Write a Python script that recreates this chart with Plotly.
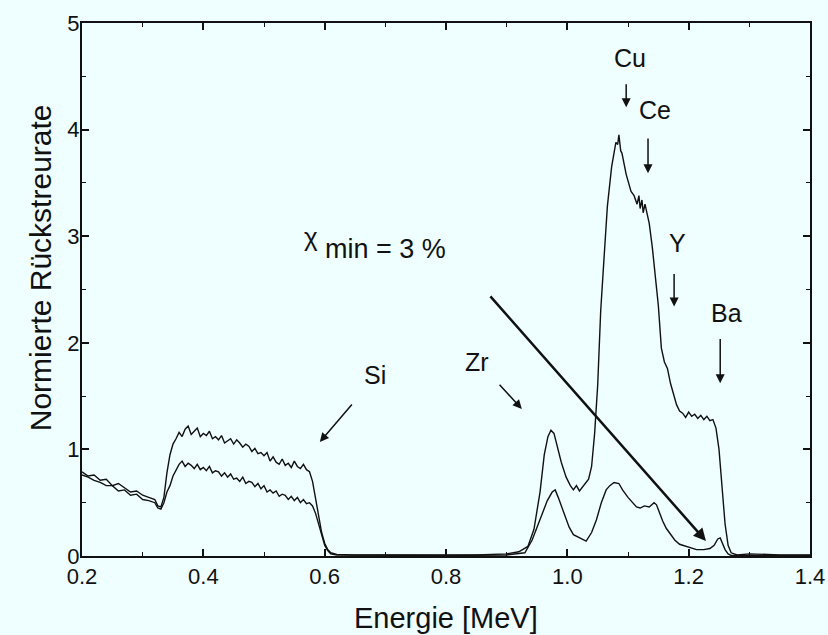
import plotly.graph_objects as go

# ---------------- data ----------------
energy_random = [0.20, 0.21, 0.22, 0.23, 0.24, 0.25, 0.26, 0.27, 0.28, 0.29, 0.30, 0.31, 0.32, 0.325, 0.33,
                 0.335, 0.34, 0.345, 0.35, 0.355, 0.36, 0.365, 0.37, 0.375, 0.38, 0.385, 0.39, 0.395, 0.40,
                 0.405, 0.41, 0.415, 0.42, 0.425, 0.43, 0.435, 0.44, 0.445, 0.45, 0.455, 0.46, 0.465, 0.47,
                 0.475, 0.48, 0.485, 0.49, 0.495, 0.50, 0.505, 0.51, 0.515, 0.52, 0.525, 0.53, 0.535, 0.54,
                 0.545, 0.55, 0.555, 0.56, 0.565, 0.57, 0.575, 0.58, 0.585, 0.59, 0.595, 0.60, 0.605, 0.61,
                 0.62, 0.65, 0.70, 0.75, 0.80, 0.85, 0.90, 0.92, 0.935, 0.945, 0.955, 0.962, 0.968, 0.973,
                 0.978, 0.985, 0.99, 0.998, 1.005, 1.01, 1.015, 1.02, 1.025, 1.03, 1.035, 1.04, 1.045, 1.05,
                 1.055, 1.06, 1.066, 1.073, 1.08, 1.083, 1.085, 1.088, 1.09, 1.097, 1.105, 1.11, 1.115, 1.118,
                 1.12, 1.123, 1.125, 1.128, 1.13, 1.135, 1.14, 1.145, 1.15, 1.155, 1.16, 1.165, 1.17, 1.175,
                 1.18, 1.185, 1.19, 1.195, 1.20, 1.205, 1.21, 1.215, 1.22, 1.225, 1.23, 1.235, 1.24, 1.245,
                 1.25, 1.255, 1.26, 1.265, 1.27, 1.28, 1.30, 1.35, 1.40]
rate_random = [0.79, 0.75, 0.76, 0.71, 0.72, 0.66, 0.68, 0.64, 0.60, 0.61, 0.57, 0.55, 0.53, 0.47, 0.46,
               0.55, 0.78, 0.95, 1.05, 1.10, 1.16, 1.12, 1.19, 1.22, 1.14, 1.17, 1.20, 1.12, 1.15,
               1.13, 1.17, 1.10, 1.12, 1.09, 1.13, 1.06, 1.08, 1.10, 1.05, 1.09, 1.06, 1.02, 1.05,
               1.03, 0.98, 1.01, 0.96, 0.97, 0.94, 0.97, 0.89, 0.93, 0.88, 0.86, 0.91, 0.85, 0.87,
               0.83, 0.89, 0.84, 0.82, 0.86, 0.81, 0.79, 0.70, 0.55, 0.38, 0.22, 0.12, 0.06, 0.03,
               0.015, 0.01, 0.01, 0.01, 0.015, 0.01, 0.02, 0.04, 0.09, 0.25, 0.60, 0.95, 1.12, 1.18,
               1.15, 1.00, 0.88, 0.74, 0.66, 0.62, 0.66, 0.61, 0.65, 0.68, 0.72, 0.84, 1.15, 1.60,
               2.30, 2.75, 3.28, 3.65, 3.88, 3.86, 3.95, 3.80, 3.78, 3.58, 3.42, 3.38, 3.30, 3.38,
               3.26, 3.34, 3.22, 3.30, 3.24, 3.12, 2.90, 2.65, 2.35, 1.95, 1.82, 1.76, 1.62, 1.52,
               1.42, 1.36, 1.34, 1.30, 1.35, 1.31, 1.33, 1.29, 1.32, 1.28, 1.31, 1.27, 1.28, 1.20,
               1.00, 0.65, 0.30, 0.10, 0.03, 0.01, 0.02, 0.01, 0.01]

energy_aligned = [0.20, 0.21, 0.22, 0.23, 0.24, 0.25, 0.26, 0.27, 0.28, 0.29, 0.30, 0.31, 0.32, 0.325, 0.33,
                  0.335, 0.34, 0.345, 0.35, 0.355, 0.36, 0.365, 0.37, 0.375, 0.38, 0.385, 0.39, 0.395, 0.40,
                  0.405, 0.41, 0.415, 0.42, 0.425, 0.43, 0.435, 0.44, 0.445, 0.45, 0.455, 0.46, 0.465, 0.47,
                  0.475, 0.48, 0.485, 0.49, 0.495, 0.50, 0.505, 0.51, 0.515, 0.52, 0.525, 0.53, 0.535, 0.54,
                  0.545, 0.55, 0.555, 0.56, 0.565, 0.57, 0.575, 0.58, 0.585, 0.59, 0.595, 0.60, 0.605, 0.61,
                  0.62, 0.70, 0.80, 0.90, 0.93, 0.942, 0.95, 0.959, 0.967, 0.975, 0.98, 0.985, 0.991, 0.997,
                  1.003, 1.01, 1.02, 1.031, 1.04, 1.048, 1.056, 1.064, 1.07, 1.077, 1.085, 1.091, 1.10,
                  1.107, 1.114, 1.12, 1.127, 1.135, 1.143, 1.147, 1.152, 1.157, 1.163, 1.169, 1.177, 1.185,
                  1.195, 1.205, 1.213, 1.225, 1.235, 1.242, 1.248, 1.252, 1.256, 1.26, 1.265, 1.27, 1.30,
                  1.40]
rate_aligned = [0.76, 0.74, 0.71, 0.69, 0.66, 0.66, 0.61, 0.62, 0.57, 0.58, 0.53, 0.52, 0.50, 0.45, 0.44,
                0.50, 0.60, 0.66, 0.75, 0.80, 0.86, 0.89, 0.84, 0.87, 0.85, 0.82, 0.86, 0.81, 0.83,
                0.80, 0.84, 0.78, 0.80, 0.79, 0.75, 0.78, 0.74, 0.77, 0.72, 0.73, 0.70, 0.74, 0.68,
                0.70, 0.69, 0.65, 0.68, 0.63, 0.66, 0.60, 0.62, 0.59, 0.61, 0.56, 0.58, 0.57, 0.53,
                0.56, 0.52, 0.55, 0.50, 0.53, 0.49, 0.50, 0.47, 0.40, 0.30, 0.18, 0.10, 0.05, 0.02,
                0.01, 0.005, 0.005, 0.01, 0.03, 0.15, 0.27, 0.40, 0.52, 0.60, 0.62, 0.55, 0.46, 0.36,
                0.27, 0.20, 0.17, 0.14, 0.22, 0.34, 0.50, 0.62, 0.66, 0.69, 0.68, 0.62, 0.55,
                0.50, 0.46, 0.45, 0.47, 0.46, 0.50, 0.48, 0.40, 0.33, 0.26, 0.21, 0.15, 0.11,
                0.09, 0.07, 0.06, 0.06, 0.07, 0.10, 0.16, 0.17, 0.12, 0.06, 0.02, 0.005, 0.005,
                0.005]

x_ticks = [0.2, 0.4, 0.6, 0.8, 1.0, 1.2, 1.4]
x_tick_labels = ["0.2", "0.4", "0.6", "0.8", "1.0", "1.2", "1.4"]
y_ticks = [0, 1, 2, 3, 4, 5]

# element labels: (text, label x, label y, arrow tail x, tail y, head x, head y)
element_labels = [
    ("Cu", 1.103, 4.67, 1.097, 4.44, 1.097, 4.21),
    ("Ce", 1.145, 4.18, 1.133, 3.93, 1.133, 3.59),
    ("Y", 1.181, 2.94, 1.176, 2.66, 1.176, 2.34),
    ("Ba", 1.262, 2.28, 1.252, 2.05, 1.252, 1.62),
    ("Si", 0.683, 1.70, 0.647, 1.435, 0.592, 1.07),
    ("Zr", 0.851, 1.82, 0.886, 1.62, 0.925, 1.38),
]

BG = "#effefe"
FONT = "Liberation Sans, Arial, sans-serif"
INK = "#111111"

fig = go.Figure()
fig.add_trace(go.Scatter(x=energy_random, y=rate_random, mode="lines",
                         line=dict(color=INK, width=1.4), showlegend=False))
fig.add_trace(go.Scatter(x=energy_aligned, y=rate_aligned, mode="lines",
                         line=dict(color=INK, width=1.4), showlegend=False))

annotations = []
for text, lx, ly, tx, ty, hx, hy in element_labels:
    annotations.append(dict(x=lx, y=ly, xref="x", yref="y", text=text, showarrow=False,
                            font=dict(family=FONT, size=25, color=INK)))
    annotations.append(dict(x=hx, y=hy, ax=tx, ay=ty, xref="x", yref="y", axref="x", ayref="y",
                            text="", showarrow=True, arrowhead=2, arrowsize=1.2, arrowwidth=1.5,
                            arrowcolor=INK))

# long diagonal arrow
annotations.append(dict(x=1.2285, y=0.14, ax=0.871, ay=2.45, xref="x", yref="y", axref="x", ayref="y",
                        text="", showarrow=True, arrowhead=2, arrowsize=1.0, arrowwidth=2.5,
                        arrowcolor=INK))
# chi_min text
annotations.append(dict(x=0.578, y=2.99, xref="x", yref="y", text="χ", showarrow=False,
                        font=dict(family=FONT, size=26, color=INK)))
annotations.append(dict(x=0.700, y=2.88, xref="x", yref="y", text="min = 3 %", showarrow=False,
                        font=dict(family=FONT, size=27, color=INK)))
# axis titles
annotations.append(dict(x=0.5, y=-0.117, xref="paper", yref="paper", text="Energie [MeV]",
                        yanchor="middle", showarrow=False, font=dict(family=FONT, size=29, color=INK)))
annotations.append(dict(x=-0.083, y=0.54, xref="paper", yref="paper", text="Normierte Rückstreurate",
                        textangle=-90, showarrow=False, font=dict(family=FONT, size=30, color=INK)))

fig.update_layout(
    width=828, height=635,
    margin=dict(l=82, r=18, t=23, b=79, autoexpand=False),
    paper_bgcolor=BG, plot_bgcolor=BG,
    annotations=annotations,
    font=dict(family=FONT, color=INK),
)
fig.update_xaxes(range=[0.2, 1.4], tickvals=x_ticks, ticktext=x_tick_labels, automargin=False,
                 ticks="inside", ticklen=7, tickwidth=1.5, tickcolor=INK,
                 minor=dict(dtick=0.1, ticks="inside", ticklen=4, tickwidth=1.2, tickcolor=INK),
                 showline=True, linewidth=2, linecolor=INK, mirror="ticks",
                 showgrid=False, zeroline=False, ticklabelstandoff=0,
                 tickfont=dict(family=FONT, size=22, color=INK))
fig.update_yaxes(range=[0, 5], tickvals=y_ticks, automargin=False,
                 ticks="inside", ticklen=7, tickwidth=1.5, tickcolor=INK,
                 minor=dict(dtick=0.5, ticks="inside", ticklen=4, tickwidth=1.2, tickcolor=INK),
                 showline=True, linewidth=2, linecolor=INK, mirror="ticks",
                 showgrid=False, zeroline=False, ticklabelstandoff=-4,
                 tickfont=dict(family=FONT, size=22, color=INK))

fig.write_html("out.html", config={"displayModeBar": False},
               post_script="document.body.style.margin='0';document.body.style.background='%s';" % BG)
